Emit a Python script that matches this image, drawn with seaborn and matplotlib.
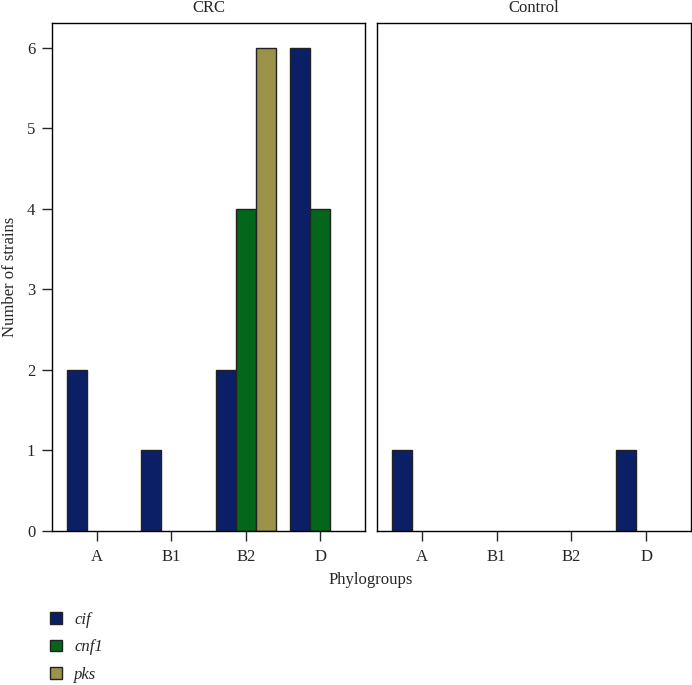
import matplotlib
matplotlib.use("Agg")
import matplotlib.pyplot as plt
import seaborn as sns
import pandas as pd

# Dati
phylogroups = ["A", "B1", "B2", "D"]
genes = ["cif", "cnf1", "pks"]

crc_cif = [2, 1, 2, 6]
crc_cnf1 = [0, 0, 4, 4]
crc_pks = [0, 0, 6, 0]

ctrl_cif = [1, 0, 0, 1]
ctrl_cnf1 = [0, 0, 0, 0]
ctrl_pks = [0, 0, 0, 0]

colori = ["#0b1f66", "#04661a", "#9b9349"]

rows = []
for gruppo, serie in [("CRC", [crc_cif, crc_cnf1, crc_pks]),
                      ("Control", [ctrl_cif, ctrl_cnf1, ctrl_pks])]:
    for g, vals in zip(genes, serie):
        for p, v in zip(phylogroups, vals):
            rows.append({"group": gruppo, "gene": g, "phylo": p, "n": v})
df = pd.DataFrame(rows)

sns.set_style("white")
plt.rcParams["font.family"] = ["Liberation Serif", "DejaVu Serif"]
fs = 12

W, H = 692, 685
fig = plt.figure(figsize=(W / 100, H / 100), dpi=100)
ax1 = fig.add_axes([52 / W, (H - 531) / H, 313 / W, 508 / H])
ax2 = fig.add_axes([377 / W, (H - 531) / H, 314 / W, 508 / H])

for ax, gruppo in [(ax1, "CRC"), (ax2, "Control")]:
    sub = df[df["group"] == gruppo]
    sns.barplot(data=sub, x="phylo", y="n", hue="gene", order=phylogroups,
                hue_order=genes, palette=colori, saturation=1,
                edgecolor="#222222", linewidth=1, width=0.8, ax=ax,
                legend=(ax is ax1))
    # le barre a zero non si vedono nell'originale
    for p in ax.patches:
        if p.get_height() == 0:
            p.set_linewidth(0)
    ax.set_xlim(-0.6, 3.6)
    ax.set_ylim(0, 6.31)
    ax.set_xlabel("")
    ax.set_ylabel("")
    ax.set_title(gruppo, fontsize=fs, pad=8)
    for s in ax.spines.values():
        s.set_visible(True)
        s.set_color("black")
        s.set_linewidth(1)
    ax.tick_params(axis="x", direction="out", length=7, width=1, pad=6,
                   bottom=True, labelsize=fs)

ax1.set_yticks(range(7))
ax1.tick_params(axis="y", direction="out", length=7, width=1, pad=5,
                left=True, labelsize=fs)
ax2.set_yticks([])

handles, labels = ax1.get_legend_handles_labels()
ax1.get_legend().remove()
leg = fig.legend(handles, labels, loc="upper left",
                 bbox_to_anchor=(50 / W, (H - 612) / H), frameon=False,
                 handlelength=0.7, handleheight=0.7, handletextpad=0.75,
                 labelspacing=0.68, borderpad=0, borderaxespad=0,
                 prop={"style": "italic", "size": fs})
for p in leg.get_patches():
    p.set_edgecolor("#222222")
    p.set_linewidth(1)

fig.text(371 / W, (H - 580) / H, "Phylogroups", ha="center", va="center",
         fontsize=fs)
fig.text(10 / W, (H - 277) / H, "Number of strains", rotation=90,
         ha="center", va="center", fontsize=fs)

fig.savefig("out.png", dpi=100)
